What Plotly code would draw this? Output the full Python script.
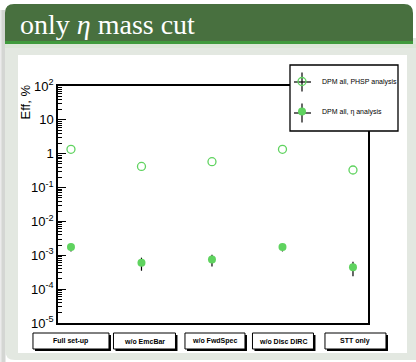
import plotly.graph_objects as go

# Detector configurations
configs = ["Full set-up", "w/o EmcBar", "w/o FwdSpec", "w/o Disc DIRC", "STT only"]
config_pos = [1, 2, 3, 4, 5]

# Efficiency in %, DPM all, PHSP analysis
eff_phsp = [1.35, 0.42, 0.58, 1.35, 0.33]
# Efficiency in %, DPM all, eta analysis, with errors
eff_eta = [1.75e-3, 6.0e-4, 7.5e-4, 1.75e-3, 4.4e-4]
err_eta = [4.5e-4, 2.5e-4, 2.8e-4, 4.5e-4, 2.0e-4]

# y axis decades and labels
y_tickvals = [1e-5, 1e-4, 1e-3, 1e-2, 1e-1, 1, 10, 100]
y_ticktext = ["10<sup>-5</sup>", "10<sup>-4</sup>", "10<sup>-3</sup>", "10<sup>-2</sup>",
              "10<sup>-1</sup>", "1", "10", "10<sup>2</sup>"]
y_minor = [m * 10.0 ** e for e in range(-5, 2) for m in range(2, 10)]

X_RANGE = [0.816, 5.213]

W, H = 416, 362
L, R, T, B = 58, 48, 86, 39
PW, PH = W - L - R, H - T - B


def fx(x):
    return (x - L) / PW


def fy(y):
    return (H - B - y) / PH


def x_to_paper(v):
    # position of a category along the x axis, as a fraction of the plot width
    return (v - X_RANGE[0]) / (X_RANGE[1] - X_RANGE[0])


GREEN = "#5fd35f"
font = "Liberation Sans, Arial, sans-serif"

fig = go.Figure()

fig.add_trace(go.Scatter(
    x=config_pos, y=eff_phsp, mode="markers",
    name="DPM all, PHSP analysis",
    marker=dict(symbol="circle-open", size=8, color=GREEN, line=dict(width=1.3, color=GREEN)),
    legendgroup="a",
))
fig.add_trace(go.Scatter(
    x=config_pos, y=eff_eta, mode="markers",
    name="DPM all, η analysis",
    marker=dict(symbol="circle", size=8, color=GREEN),
    error_y=dict(type="data", array=err_eta, color="black", thickness=1.2, width=0),
    legendgroup="b",
))


def rpath(x0, y0, x1, y1, tl=0, tr=0, bl=0, br=0):
    """Rectangle path in paper coords from pixel box, with rounded corners."""
    def P(x, y):
        return f"{fx(x):.5f},{fy(y):.5f}"
    d = f"M{P(x0, y0 + tl)} Q{P(x0, y0)} {P(x0 + tl, y0)} "
    d += f"L{P(x1 - tr, y0)} Q{P(x1, y0)} {P(x1, y0 + tr)} "
    d += f"L{P(x1, y1 - br)} Q{P(x1, y1)} {P(x1 - br, y1)} "
    d += f"L{P(x0 + bl, y1)} Q{P(x0, y1)} {P(x0, y1 - bl)} Z"
    return d


shapes = []
# slide background pieces
shapes.append(dict(type="rect", xref="paper", yref="paper", x0=fx(0), x1=fx(5.5), y0=fy(362), y1=fy(10),
                   fillcolor="#d4d6d3", line=dict(width=0), layer="below"))
shapes.append(dict(type="rect", xref="paper", yref="paper", x0=fx(0), x1=fx(1.5), y0=fy(362), y1=fy(10),
                   fillcolor="#ebebeb", line=dict(width=0), layer="below"))
shapes.append(dict(type="path", xref="paper", yref="paper", path=rpath(5, 38, 416, 360, bl=10),
                   fillcolor="#e3e8e1", line=dict(width=0), layer="below"))
shapes.append(dict(type="path", xref="paper", yref="paper", path=rpath(5, 4, 413, 42, tl=9, tr=9),
                   fillcolor="#48703f", line=dict(width=0), layer="below"))
shapes.append(dict(type="rect", xref="paper", yref="paper", x0=fx(5), x1=fx(413), y0=fy(44), y1=fy(41),
                   fillcolor="#3f9a3c", line=dict(width=0), layer="below"))
shapes.append(dict(type="rect", xref="paper", yref="paper", x0=fx(5), x1=fx(416), y0=fy(48), y1=fy(44),
                   fillcolor="#dbe6d7", line=dict(width=0), layer="below"))
shapes.append(dict(type="rect", xref="paper", yref="paper", x0=fx(18), x1=fx(407), y0=fy(353), y1=fy(55),
                   fillcolor="white", line=dict(width=0), layer="below"))

# legend frame and error-bar crosses
shapes.append(dict(type="rect", xref="paper", yref="paper", x0=fx(290), x1=fx(398), y0=fy(131), y1=fy(65),
                   fillcolor="white", line=dict(width=1.3, color="black"), layer="above"))
for cy in (82, 113):
    shapes.append(dict(type="line", xref="paper", yref="paper", x0=fx(294), x1=fx(311), y0=fy(cy), y1=fy(cy),
                       line=dict(width=1.2, color="black"), layer="above"))
    shapes.append(dict(type="line", xref="paper", yref="paper", x0=fx(302), x1=fx(302), y0=fy(cy + 9.5),
                       y1=fy(cy - 9.5), line=dict(width=1.2, color="black"), layer="above"))

annotations = []
# title
annotations.append(dict(x=fx(18), y=fy(24), xref="paper", yref="paper", xanchor="left", yanchor="middle",
                        text="only <i>η</i> mass cut", showarrow=False,
                        font=dict(family="Liberation Serif, DejaVu Serif, serif", size=28, color="white")))
# y axis title
annotations.append(dict(x=fx(25), y=fy(83), xref="paper", yref="paper", xanchor="center", yanchor="top",
                        text="Eff, %", textangle=-90, showarrow=False,
                        font=dict(family=font, size=13, color="black")))

# category label boxes under the axis (shadowed frames + text)
box_w = [76, 62, 60, 61, 61]
box_dx = [0, 3, 3, 0.5, 2.5]
for pos, lab, w, dx in zip(config_pos, configs, box_w, box_dx):
    xp = x_to_paper(pos)
    shapes.append(dict(type="rect", xref="paper", xsizemode="pixel", xanchor=xp,
                       x0=dx - w / 2 + 2, x1=dx + w / 2 + 2, yref="paper", y0=fy(351), y1=fy(335),
                       fillcolor="black", line=dict(width=0), layer="above"))
    shapes.append(dict(type="rect", xref="paper", xsizemode="pixel", xanchor=xp,
                       x0=dx - w / 2, x1=dx + w / 2, yref="paper", y0=fy(349), y1=fy(333),
                       fillcolor="white", line=dict(width=1, color="black"), layer="above"))
    annotations.append(dict(x=pos, y=fy(341), xref="x", yref="paper", xanchor="center", yanchor="middle",
                            xshift=dx, text=f"<b>{lab}</b>", showarrow=False,
                            font=dict(family=font, size=7, color="black")))

fig.update_layout(
    width=W, height=H,
    margin=dict(l=L, r=R, t=T, b=B, pad=0),
    paper_bgcolor="white", plot_bgcolor="white",
    showlegend=True,
    legend=dict(x=fx(282), y=fy(67), xanchor="left", yanchor="top", bgcolor="rgba(0,0,0,0)",
                borderwidth=0, font=dict(family=font, size=7, color="black"),
                tracegroupgap=11, itemwidth=30),
    shapes=shapes, annotations=annotations,
    xaxis=dict(range=X_RANGE, showticklabels=False, ticks="", showgrid=False, zeroline=False,
               showline=True, linecolor="black", linewidth=1.5, mirror=True),
    yaxis=dict(type="log", range=[-5, 2], tickmode="array", tickvals=y_tickvals, ticktext=y_ticktext,
               ticks="inside", ticklen=8, tickwidth=1, tickcolor="black",
               minor=dict(tickmode="array", tickvals=y_minor, ticks="inside", ticklen=4,
                          tickwidth=1, tickcolor="black", showgrid=False),
               showgrid=False, zeroline=False, showline=True, linecolor="black", linewidth=1.5,
               mirror=True, tickfont=dict(family=font, size=13, color="black")),
)

fig.write_html("out.html")
